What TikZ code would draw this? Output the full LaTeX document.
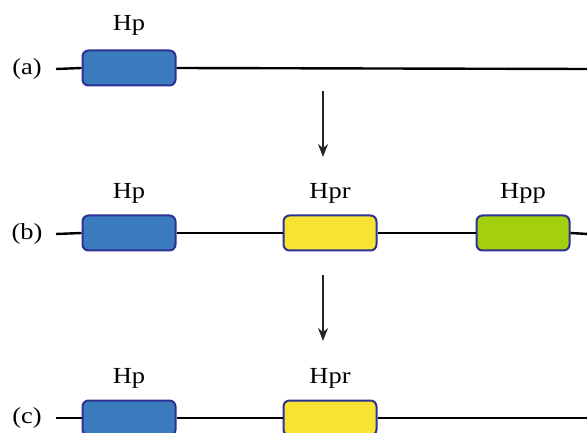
\documentclass[tikz,border=0pt]{standalone}
\usepackage{fontspec}
\usetikzlibrary{arrows.meta}
\newfontfamily\lblfont[FakeStretch=1.15]{Liberation Serif}
\definecolor{hpblue}{HTML}{3A7BBE}
\definecolor{hpryellow}{HTML}{F8E332}
\definecolor{hppgreen}{HTML}{A3CF0D}
\definecolor{boxedge}{HTML}{2E3192}
\tikzset{
  genebox/.style={draw=boxedge, line width=2pt, rounded corners=6pt,
    minimum width=93pt, minimum height=35pt, inner sep=0pt},
  strand/.style={line width=2.4pt, draw=black},
  lbl/.style={font=\lblfont\fontsize{23}{27}\selectfont, text=black, inner sep=0pt},
  genelbl/.style={lbl, anchor=base},
  steparrow/.style={line width=1.2pt, draw=black!85, -{Stealth[length=13pt,width=10pt]}}
}
\begin{document}
\begin{tikzpicture}[x=1pt,y=-1pt]
\useasboundingbox (0,0) rectangle (587,433);
\clip (0,0) rectangle (587,433);
% row (a)
\node[lbl] (ra) at (27,69) {(a)};
\coordinate (as) at (56,69);
\coordinate (ae) at (588,69);
\node[genebox, fill=hpblue] (a1) at (129,68) {};
\draw[strand] (as) -- (a1.west);
\draw[strand] (a1.east) -- (ae);
\node[genelbl] (la1) at (129,31) {Hp};
% arrow 1
\coordinate (ar1s) at (323,91);
\coordinate (ar1e) at (323,157);
\draw[steparrow] (ar1s) -- (ar1e);
% row (b)
\node[lbl] (rb) at (27,234) {(b)};
\coordinate (bs) at (56,234);
\coordinate (be) at (588,234);
\node[genebox, fill=hpblue] (b1) at (129,233) {};
\node[genebox, fill=hpryellow] (b2) at (330,233) {};
\node[genebox, fill=hppgreen] (b3) at (523,233) {};
\draw[strand] (bs) -- (b1.west);
\draw[strand] (b1.east) -- (b2.west);
\draw[strand] (b2.east) -- (b3.west);
\draw[strand] (b3.east) -- (be);
\node[genelbl] (lb1) at (129,199) {Hp};
\node[genelbl] (lb2) at (330,199) {Hpr};
\node[genelbl] (lb3) at (523,199) {Hpp};
% arrow 2
\coordinate (ar2s) at (323,275);
\coordinate (ar2e) at (323,341);
\draw[steparrow] (ar2s) -- (ar2e);
% row (c)
\node[lbl] (rc) at (27,418) {(c)};
\coordinate (cs) at (56,418);
\coordinate (ce) at (588,418);
\node[genebox, fill=hpblue] (c1) at (129,418) {};
\node[genebox, fill=hpryellow] (c2) at (330,418) {};
\draw[strand] (cs) -- (c1.west);
\draw[strand] (c1.east) -- (c2.west);
\draw[strand] (c2.east) -- (ce);
\node[genelbl] (lc1) at (129,383) {Hp};
\node[genelbl] (lc2) at (330,383) {Hpr};
\end{tikzpicture}
\end{document}
